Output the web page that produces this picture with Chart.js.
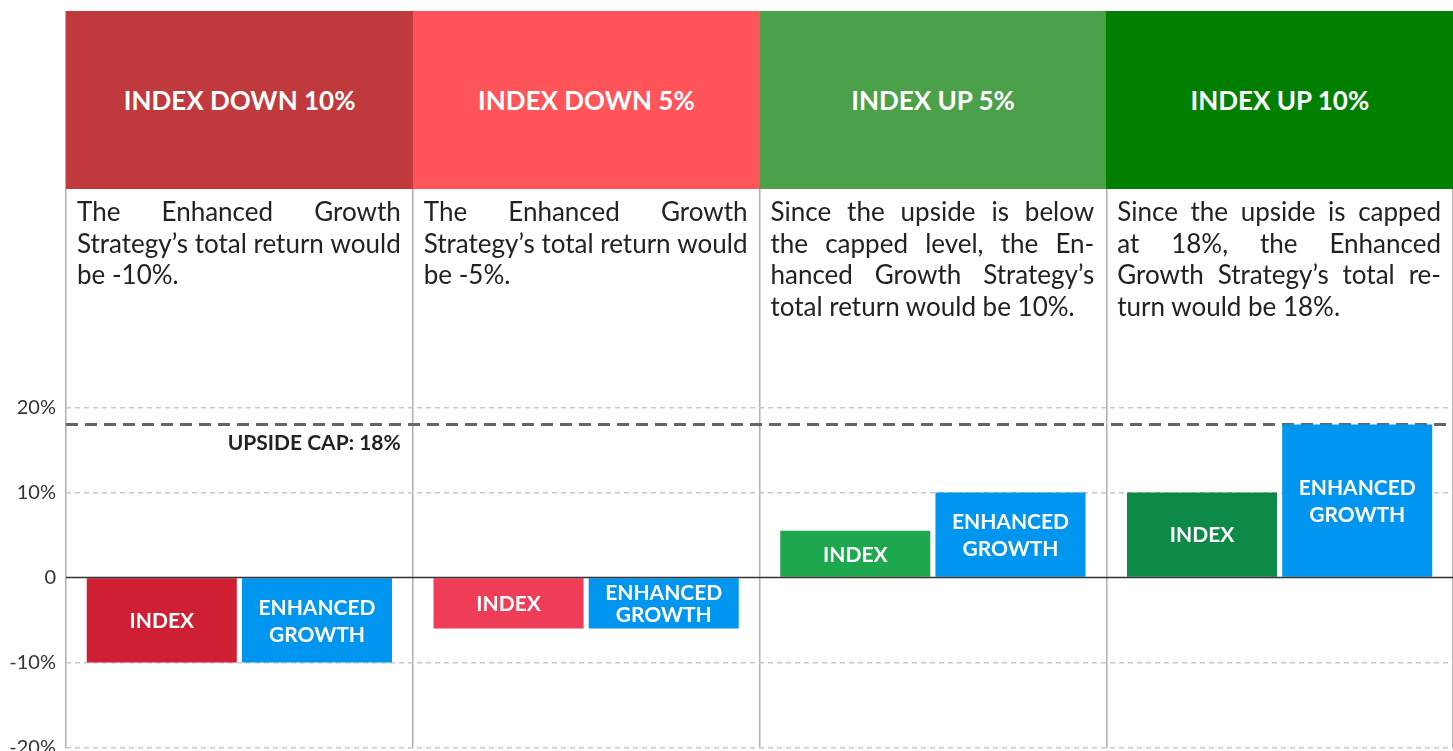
<!DOCTYPE html>
<html>
<head>
<meta charset="utf-8">
<script src="https://cdn.jsdelivr.net/npm/chart.js@4.4.1/dist/chart.umd.min.js"></script>
<style>
html,body{margin:0;padding:0;background:#fff;}
#wrap{position:relative;width:1453px;height:751px;overflow:hidden;font-family:Lato,'Noto Sans',sans-serif;}
#chart{position:absolute;left:0;top:0;}
.head{position:absolute;display:flex;align-items:center;justify-content:center;color:#fff;font-weight:bold;font-size:26px;}
.desc{position:absolute;color:#222;font-size:26px;line-height:31.7px;}
.ln{display:flex;justify-content:space-between;white-space:nowrap;}
.ln.last{display:block;white-space:pre;}
</style>
</head>
<body>
<div id="wrap">
  <canvas id="chart" width="1453" height="751"></canvas>
</div>
<script>
// scenario columns
const scenarios = ['INDEX DOWN 10%', 'INDEX DOWN 5%', 'INDEX UP 5%', 'INDEX UP 10%'];
const headColors = ['#C0393D', '#FF5459', '#4BA04A', '#007F00'];
const descLines = [
  ['The Enhanced Growth', 'Strategy’s total return would', 'be -10%.'],
  ['The Enhanced Growth', 'Strategy’s total return would', 'be -5%.'],
  ['Since the upside is below', 'the capped level, the En-', 'hanced Growth Strategy’s', 'total return would be 10%.'],
  ['Since the upside is capped', 'at 18%, the Enhanced', 'Growth Strategy’s total re-', 'turn would be 18%.']
];

// returns (%)
const indexReturns = [-10, -6, 5.5, 10];
const enhancedReturns = [-10, -6, 10, 18];
const indexColors = ['#CE1F33', '#EF3D58', '#1EA84E', '#0D8A45'];
const enhancedColor = '#0095EF';
const barLabels = [['INDEX'], ['ENHANCED', 'GROWTH']];
const upsideCap = 18;
const capLabel = 'UPSIDE CAP: 18%';
const yTicks = [-20, -10, 0, 10, 20];

const wrap = document.getElementById('wrap');
const ctx = document.getElementById('chart').getContext('2d');

const refLines = {
  id: 'refLines',
  beforeDatasetsDraw(chart){
    const {ctx, chartArea, scales:{x, y}} = chart;
    const yc = y.getPixelForValue(upsideCap);
    ctx.save();
    ctx.strokeStyle = '#666';
    ctx.lineWidth = 3;
    ctx.setLineDash([12, 7]);
    ctx.beginPath(); ctx.moveTo(chartArea.left, yc); ctx.lineTo(chartArea.right, yc); ctx.stroke();
    const w = (x.right - x.left) / scenarios.length;
    ctx.setLineDash([]);
    ctx.fillStyle = '#222';
    ctx.font = 'bold 21px Lato';
    ctx.textAlign = 'right'; ctx.textBaseline = 'middle';
    ctx.fillText(capLabel, x.left + w - 12, yc + 19);
    ctx.restore();
  },
  afterDraw(chart){
    const {ctx, chartArea, scales:{y}} = chart;
    const y0 = y.getPixelForValue(0);
    ctx.save();
    ctx.strokeStyle = '#333';
    ctx.lineWidth = 1.5;
    ctx.beginPath(); ctx.moveTo(chartArea.left, y0); ctx.lineTo(chartArea.right, y0); ctx.stroke();
    // bar labels
    ctx.fillStyle = '#fff';
    ctx.font = 'bold 21px Lato';
    ctx.textAlign = 'center'; ctx.textBaseline = 'middle';
    chart.data.datasets.forEach((ds, di)=>{
      const lines = barLabels[di];
      chart.getDatasetMeta(di).data.forEach(bar=>{
        const h = Math.abs(bar.base - bar.y);
        const lh = Math.min(27, h * 0.45);
        const cy = (bar.y + bar.base) / 2 + 1;
        lines.forEach((t, i)=>{
          ctx.fillText(t, bar.x, cy + (i - (lines.length - 1) / 2) * lh);
        });
      });
    });
    ctx.restore();
  }
};

const chart = new Chart(ctx, {
  type: 'bar',
  data: {
    labels: scenarios,
    datasets: [
      { label: 'INDEX', data: indexReturns, backgroundColor: indexColors,
        categoryPercentage: 0.895, barPercentage: 0.967 },
      { label: 'ENHANCED GROWTH', data: enhancedReturns, backgroundColor: enhancedColor,
        categoryPercentage: 0.895, barPercentage: 0.967 }
    ]
  },
  options: {
    responsive: false,
    animation: false,
    layout: { padding: { top: 11, bottom: 3.5, left: 0, right: 0 } },
    plugins: { legend: { display: false }, tooltip: { enabled: false } },
    scales: {
      x: {
        grid: { offset: true, color: '#b0b0b0', lineWidth: 1.5, drawTicks: false },
        border: { display: false },
        ticks: { display: false },
        afterFit(s){ s.height = 0; s.paddingLeft = 0; s.paddingRight = 0; s.paddingTop = 0; s.paddingBottom = 0; }
      },
      y: {
        min: -20, max: 66.65,
        z: 1,
        afterBuildTicks(s){ s.ticks = yTicks.map(v=>({ value: v })); },
        ticks: {
          callback: v => v === 0 ? '0' : v + '%',
          font: { family: 'Lato', size: 20 }, color: '#333', padding: 10
        },
        grid: {
          drawTicks: false, lineWidth: 1.5,
          color: c => c.tick && c.tick.value === 0 ? 'rgba(0,0,0,0)' : '#c8c8c8'
        },
        border: { display: false, dash: [5, 4] },
        afterFit(s){ s.width = 66; s.paddingTop = 0; s.paddingBottom = 0; }
      }
    }
  },
  plugins: [refLines]
});

// header panels and descriptions, placed on the category scale
function paintPanels(){
  const xs = chart.scales.x;
  const w = (xs.right - xs.left) / scenarios.length;
  const top = chart.chartArea.top;
  scenarios.forEach((s, i)=>{
    const left = xs.left + w * i;
    const hd = document.createElement('div');
    hd.className = 'head';
    hd.style.cssText = `left:${left}px;top:${top}px;width:${w + 0.5}px;height:178px;background:${headColors[i]}`;
    hd.textContent = s;
    wrap.appendChild(hd);
    const d = document.createElement('div');
    d.className = 'desc';
    d.style.cssText = `left:${left + 11}px;top:196px;width:${w - 23}px`;
    const lines = descLines[i];
    lines.forEach((t, j)=>{
      const ln = document.createElement('div');
      if(j === lines.length - 1){ ln.className = 'ln last'; ln.textContent = t; }
      else{
        ln.className = 'ln';
        ln.innerHTML = t.split(' ').map(wd=>`<span>${wd}</span>`).join('');
      }
      d.appendChild(ln);
    });
    wrap.appendChild(d);
  });
}
paintPanels();
</script>
</body>
</html>
